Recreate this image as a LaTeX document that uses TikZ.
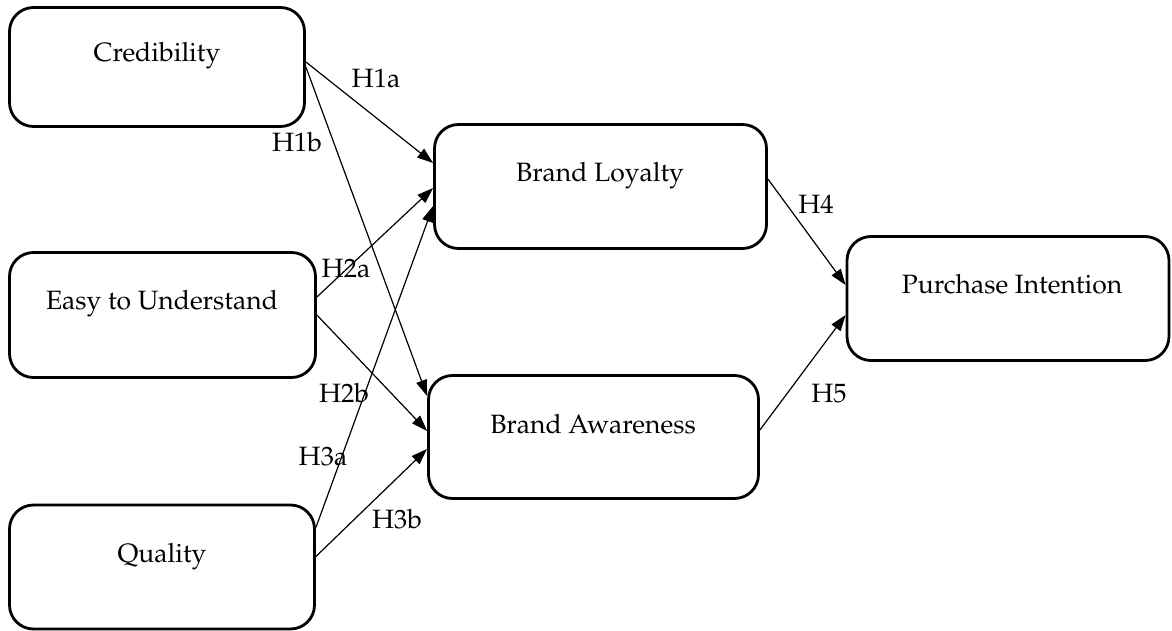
\documentclass[tikz,border=0pt]{standalone}
\usepackage[T1]{fontenc}
\usepackage{mathpazo}
\usetikzlibrary{arrows.meta}
\begin{document}
\begin{tikzpicture}[x=1pt,y=-1pt,
  box/.style={draw,line width=2.8pt,rounded corners=24pt,inner sep=0pt},
  txt/.style={anchor=base,inner sep=0pt,font=\fontsize{26.5}{31}\selectfont},
  lbl/.style={anchor=base,inner sep=0pt,font=\fontsize{26.5}{31}\selectfont},
  conn/.style={line width=1.2pt,-{Triangle[length=16pt,width=11pt]}}]
\useasboundingbox (0,0) rectangle (1172,631);
% boxes
\node[box,minimum width=295pt,minimum height=119pt] (cred) at (157,67) {};
\node[box,minimum width=306pt,minimum height=125pt] (easy) at (162.5,315) {};
\node[box,minimum width=305pt,minimum height=124pt] (qual) at (162,567) {};
\node[box,minimum width=332pt,minimum height=124pt] (loy) at (600.5,186.5) {};
\node[box,minimum width=330pt,minimum height=123pt] (aw) at (593.5,437) {};
\node[box,minimum width=322pt,minimum height=124pt] (pi) at (1008,298.5) {};
% texts
\node[txt] (credt) at (157,62) {Credibility};
\node[txt] (easyt) at (162,309) {Easy to Understand};
\node[txt] (qualt) at (162,562) {Quality};
\node[txt] (loyt) at (600,182) {Brand Loyalty};
\node[txt] (awt) at (593,433) {Brand Awareness};
\node[txt] (pit) at (1012,293) {Purchase Intention};
% connectors
\draw[conn] ([yshift=5pt]cred.east) -- ([yshift=23.5pt]loy.west);
\draw[conn] (cred.east) -- ([yshift=41pt]aw.west);
\draw[conn] ([yshift=18pt]easy.east) -- ([yshift=-1.5pt]loy.west);
\draw[conn] (easy.east) -- ([yshift=6pt]aw.west);
\draw[conn] ([yshift=39.5pt]qual.east) -- ([yshift=-19.5pt]loy.west);
\draw[conn] ([yshift=10.5pt]qual.east) -- ([yshift=-12pt]aw.west);
\draw[conn] ([yshift=7.5pt]loy.east) -- ([yshift=13.5pt]pi.west);
\draw[conn] ([yshift=7pt]aw.east) -- ([yshift=-16.5pt]pi.west);
% labels
\node[lbl] (h1a) at (376,88) {H1a};
\node[lbl] (h1b) at (297,152) {H1b};
\node[lbl] (h2a) at (346,277) {H2a};
\node[lbl] (h2b) at (344,402) {H2b};
\node[lbl] (h3a) at (323,465) {H3a};
\node[lbl] (h3b) at (397,528) {H3b};
\node[lbl] (h4) at (816,213) {H4};
\node[lbl] (h5) at (829,402) {H5};
\end{tikzpicture}
\end{document}
